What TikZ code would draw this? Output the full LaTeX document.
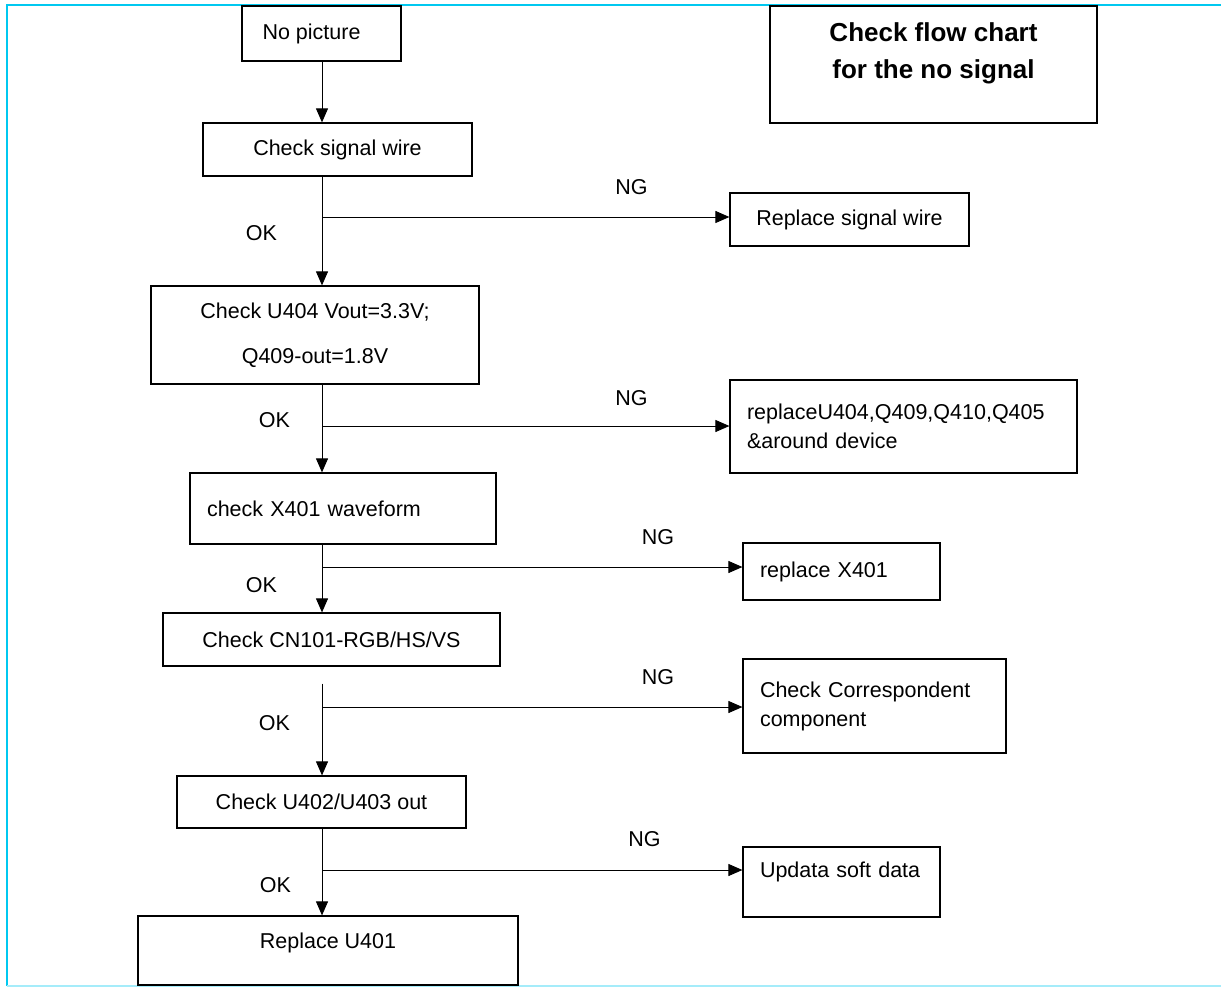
\documentclass[tikz,border=0pt]{standalone}
\usepackage{fontspec}
\setmainfont{Liberation Sans}
\usetikzlibrary{arrows.meta, positioning}
\definecolor{framecyan}{RGB}{0,200,240}
\definecolor{framelight}{RGB}{165,236,250}
\newcommand{\lift}[2]{\raisebox{#1}[\height][\depth]{#2}}

\begin{document}
\begin{tikzpicture}[
		x=1pt, y=-1pt,
		font=\fontsize{21.5}{29}\selectfont,
		box/.style={draw, line width=1.2pt, inner sep=0pt, align=center},
		lbox/.style={box, align=left, inner xsep=17pt, inner ysep=0pt},
		arr/.style={-{Triangle[length=14pt,width=12pt]}, line width=0.9pt},
		lbl/.style={inner sep=0pt}
		]
		\useasboundingbox (0,0) rectangle (1221,987);
		\draw[framecyan, line width=2pt] (6.5,986) -- (6.5,5) -- (1221,5);
		\draw[framelight, line width=2pt] (6.5,986) -- (1221,986);
		
		% main column
		\node[box, minimum width=159pt, minimum height=55pt] (nopic) at (321.5,33.5) {\hspace*{-20pt}No picture};
		\node[box, minimum width=269pt, minimum height=53pt] (sig) at (337.5,149.5) {Check signal wire};
		\node[box, minimum width=328pt, minimum height=98pt] (u404) at (315,335) {Check U404 Vout=3.3V;\\[16pt]Q409-out=1.8V};
		\node[lbox, text width=272pt, minimum height=71pt] (x401) at (343,508.5) {check X401 waveform};
		\node[box, minimum width=337pt, minimum height=53pt] (cn101) at (331.5,639.5) {Check CN101-RGB/HS/VS};
		\node[box, minimum width=289pt, minimum height=52pt] (u402) at (321.5,802) {Check U402/U403 out};
		\node[box, minimum width=380pt, minimum height=69pt] (u401) at (328,950.5) {\lift{8pt}{Replace U401}};
		
		% right column
		\node[box, minimum width=327pt, minimum height=117pt] (title) at (933.5,64.5) {};
		\node[lbl, font=\fontsize{26}{37}\selectfont\bfseries, align=center] (titletxt) at (933.5,53.5) {Check flow chart\\for the no signal};
		\node[box, minimum width=239pt, minimum height=53pt] (sigrep) at (849.5,219.5) {Replace signal wire};
		\node[lbox, text width=313pt, minimum height=93pt] (u404rep) at (903.5,426.5) {replaceU404,Q409,Q410,Q405\\\&around device\\[-12pt]};
		\node[lbox, text width=163pt, minimum height=57pt] (xrep) at (841.5,571.5) {replace X401};
		\node[lbox, text width=229pt, minimum height=94pt] (ccomp) at (874.5,706) {Check Correspondent\\component};
		\node[lbox, text width=163pt, minimum height=70pt] (upd) at (841.5,882) {\lift{10pt}{Updata soft data}};
		
		% trunk and branch points
		\coordinate (trunk) at (322,0);
		\coordinate (br1) at (322,217);
		\coordinate (br2) at (322,426);
		\coordinate (br3) at (322,567);
		\coordinate (br4) at (322,707);
		\coordinate (br5) at (322,870);
		
		\draw[arr] (nopic.south -| trunk) -- (sig.north -| trunk);
		\draw[arr] (sig.south -| trunk) -- (u404.north -| trunk);
		\draw[arr] (u404.south -| trunk) -- (x401.north -| trunk);
		\draw[arr] (x401.south -| trunk) -- (cn101.north -| trunk);
		\draw[arr, shorten <=17pt] (cn101.south -| trunk) -- (u402.north -| trunk);
		\draw[arr] (u402.south -| trunk) -- (u401.north -| trunk);
		
		\draw[arr] (br1) -- (br1 -| sigrep.west);
		\draw[arr] (br2) -- (br2 -| u404rep.west);
		\draw[arr] (br3) -- (br3 -| xrep.west);
		\draw[arr] (br4) -- (br4 -| ccomp.west);
		\draw[arr] (br5) -- (br5 -| upd.west);
		
		% labels
		\node[lbl] (ok1) at (261.5,233) {OK};
		\node[lbl] (ok2) at (274.5,420) {OK};
		\node[lbl] (ok3) at (261.5,585) {OK};
		\node[lbl] (ok4) at (274.5,723) {OK};
		\node[lbl] (ok5) at (275.5,885) {OK};
		\node[lbl] (ng1) at (631.5,187) {NG};
		\node[lbl] (ng2) at (631.5,398) {NG};
		\node[lbl] (ng3) at (658,537) {NG};
		\node[lbl] (ng4) at (658,677) {NG};
		\node[lbl] (ng5) at (644.5,839) {NG};
	\end{tikzpicture}
\end{document}
